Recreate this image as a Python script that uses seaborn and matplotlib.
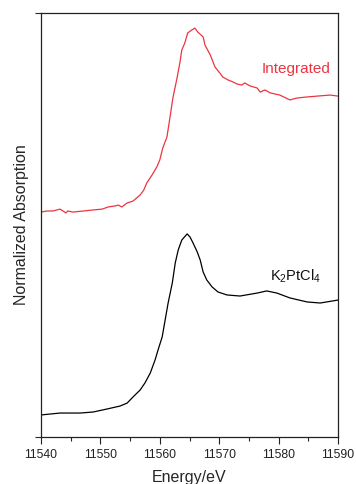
import numpy as np
import pandas as pd
import matplotlib
matplotlib.use("Agg")
import matplotlib.pyplot as plt
import seaborn as sns

# K2PtCl4 reference spectrum
ref_energy = [11540.0, 11543.2, 11546.6, 11548.8, 11551.1, 11553.3, 11554.5, 11555.5,
              11556.7, 11557.5, 11558.4, 11559.2, 11559.7, 11560.4, 11560.9, 11561.4,
              11562.1, 11562.6, 11563.1, 11563.7, 11564.6, 11565.1, 11565.6, 11566.3,
              11566.8, 11567.3, 11567.9, 11568.8, 11569.8, 11571.3, 11573.5, 11576.4,
              11578.0, 11579.7, 11581.9, 11584.8, 11587.0, 11590.0]
ref_abs = [0.104, 0.113, 0.113, 0.118, 0.132, 0.146, 0.160, 0.189,
           0.222, 0.255, 0.302, 0.363, 0.410, 0.472, 0.552, 0.632,
           0.726, 0.821, 0.882, 0.929, 0.958, 0.943, 0.915, 0.873,
           0.835, 0.778, 0.741, 0.708, 0.684, 0.670, 0.665, 0.679,
           0.689, 0.679, 0.656, 0.637, 0.632, 0.646]

# integrated spectrum (offset upwards)
int_energy = [11540.0, 11541.0, 11542.0, 11543.2, 11543.7, 11544.2, 11544.5, 11545.4,
              11547.1, 11548.8, 11550.3, 11551.3, 11552.5, 11553.0, 11553.6, 11554.5,
              11555.5, 11556.7, 11557.3, 11557.8, 11558.7, 11559.5, 11560.0, 11560.5,
              11561.2, 11561.7, 11562.2, 11562.9, 11563.4, 11563.7, 11564.2, 11564.7,
              11565.4, 11565.9, 11566.4, 11567.3, 11567.6, 11568.5, 11569.3, 11570.1,
              11570.6, 11571.5, 11572.3, 11573.0, 11573.8, 11574.3, 11575.2, 11576.4,
              11576.9, 11577.7, 11578.6, 11580.2, 11581.9, 11583.1, 11584.8, 11586.5,
              11588.7, 11590.0]
int_abs = [1.061, 1.066, 1.066, 1.075, 1.066, 1.057, 1.066, 1.061,
           1.066, 1.071, 1.075, 1.085, 1.090, 1.094, 1.085, 1.104,
           1.113, 1.142, 1.165, 1.198, 1.236, 1.274, 1.307, 1.363,
           1.415, 1.505, 1.599, 1.693, 1.769, 1.825, 1.858, 1.906,
           1.920, 1.929, 1.910, 1.887, 1.849, 1.802, 1.745, 1.717,
           1.698, 1.684, 1.675, 1.665, 1.660, 1.670, 1.656, 1.646,
           1.627, 1.637, 1.623, 1.613, 1.590, 1.599, 1.604, 1.608,
           1.613, 1.608]

x_ticks = [11540, 11550, 11560, 11570, 11580, 11590]

sns.set_style("ticks")
plt.rcParams["font.family"] = ["Liberation Sans", "DejaVu Sans"]
plt.rcParams["mathtext.fontset"] = "custom"
plt.rcParams["mathtext.rm"] = "Liberation Sans"
plt.rcParams["mathtext.it"] = "Liberation Sans"

red = "#ec3540"

fig = plt.figure(figsize=(3.56, 4.84), dpi=100)
ax = fig.add_axes([41 / 356, 1 - 437 / 484, 297 / 356, 424 / 484])

df_ref = pd.DataFrame({"E": ref_energy, "A": ref_abs})
df_int = pd.DataFrame({"E": int_energy, "A": int_abs})
sns.lineplot(data=df_ref, x="E", y="A", ax=ax, color="black", lw=0.9,
             sort=False, estimator=None)
sns.lineplot(data=df_int, x="E", y="A", ax=ax, color=red, lw=0.9,
             sort=False, estimator=None)

ax.set_xlim(11540, 11590)
ax.set_ylim(0, 2.0)
ax.set_xticks(x_ticks)
ax.set_xticks(np.arange(11545, 11590, 10), minor=True)
ax.set_yticks([0, 2.0])
ax.set_yticklabels([])
ax.tick_params(axis="x", which="major", direction="out", length=5, width=0.8,
               labelsize=8.8, pad=4, colors="#222222")
ax.tick_params(axis="x", which="minor", direction="out", length=3, width=0.8)
ax.tick_params(axis="y", direction="out", length=4.3, width=0.8)
for s in ax.spines.values():
    s.set_linewidth(0.9)
    s.set_color("#222222")

ax.set_xlabel("Energy/eV", fontsize=11.5, labelpad=6)
ax.set_ylabel("Normalized Absorption", fontsize=11.5, labelpad=1)

ax.text(11583, 1.735, "Integrated", color=red, fontsize=11, ha="center", va="center")
ax.text(11582.8, 0.76, "K$_2$PtCl$_4$", color="#111111", fontsize=10.5,
        ha="center", va="center")

fig.savefig("out.png", dpi=100)
